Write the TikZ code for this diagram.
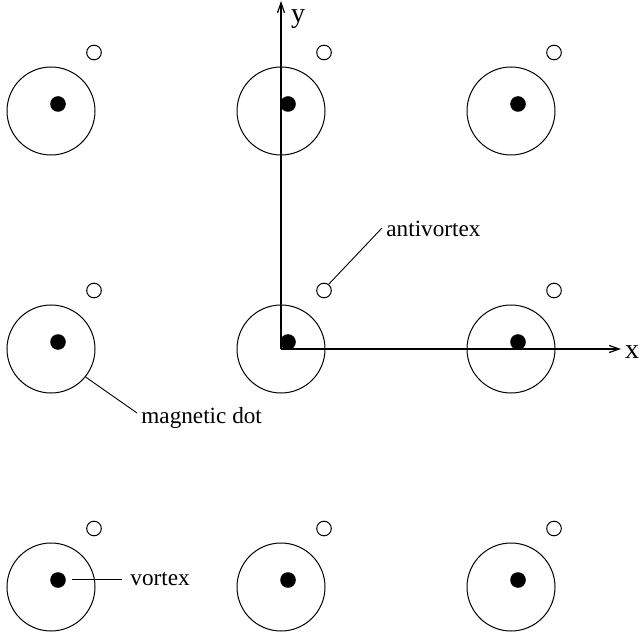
\documentclass[tikz,border=0pt]{standalone}
\usepackage{fontspec}
\setmainfont{Liberation Serif}
\usetikzlibrary{arrows.meta}
\begin{document}
\begin{tikzpicture}[x=0.5pt,y=-0.5pt,
 magdot/.style={circle,draw,line width=0.5pt,minimum size=44pt,inner sep=0pt},
 vort/.style={circle,fill=black,minimum size=7.8pt,inner sep=0pt},
 avort/.style={circle,draw,line width=0.5pt,minimum size=7.3pt,inner sep=0pt},
 axis/.style={line width=0.6pt,-{Straight Barb[length=5pt,width=3.5pt]}},
 leader/.style={line width=0.45pt},
 lbl/.style={inner sep=0pt,anchor=base west,font=\fontsize{11.6}{13}\selectfont},
 axlbl/.style={inner sep=0pt,font=\fontsize{14}{16}\selectfont}]
\useasboundingbox (0,0) rectangle (640,640);
\foreach \i/\cx in {1/51,2/281,3/511}{
  \foreach \j/\cy in {1/111,2/349,3/587}{
    \node[magdot] (m\i\j) at (\cx,\cy) {};
    \node[vort] (v\i\j) at (\cx+7,\cy-7) {};
    \node[avort] (a\i\j) at (\cx+43,\cy-58.5) {};
  }
}
\coordinate (O) at (281,349);
\coordinate (xe) at (621,349);
\coordinate (ye) at (281,1);
\draw[axis] (O) -- (xe);
\draw[axis] (O) -- (ye);
\node[axlbl] (xl) at (632,352) {x};
\node[axlbl,anchor=base] (yl) at (298,23) {y};
\node[lbl] (tmag) at (141,423) {magnetic dot};
\coordinate (lm) at (137,413);
\draw[leader] (m12.-39) -- (lm);
\node[lbl] (tav) at (386,237) {antivortex};
\coordinate (la) at (382,228);
\draw[leader] (a22.53) -- (la);
\node[lbl] (tv) at (130,585) {vortex};
\coordinate (lv0) at (72,579.5);
\coordinate (lv) at (122,579.5);
\draw[leader] (lv0) -- (lv);
\end{tikzpicture}
\end{document}
